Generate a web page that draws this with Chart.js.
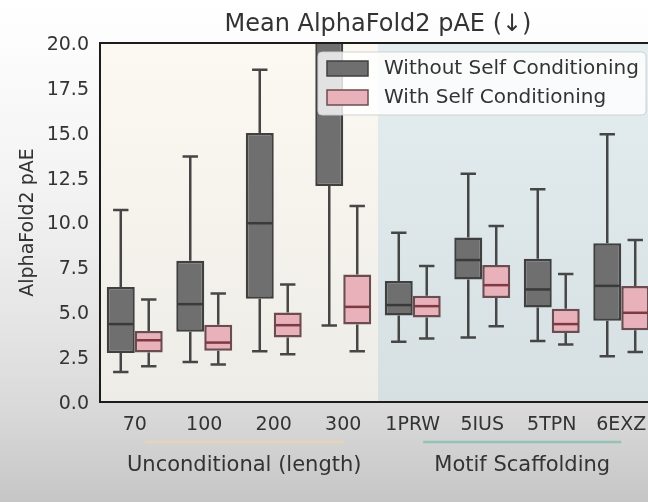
<!DOCTYPE html>
<html>
<head>
<meta charset="utf-8">
<script src="https://cdn.jsdelivr.net/npm/chart.js@4.4.1/dist/chart.umd.min.js"></script>
<style>
  html, body {
    margin: 0; padding: 0; width: 648px; height: 502px; overflow: hidden;
    background: linear-gradient(to bottom, #ffffff 0px, #fbfbfb 60px, #f2f2f2 200px,
                #e4e4e4 330px, #d9d9d9 410px, #c6c6c6 502px);
  }
  canvas { display: block; }
</style>
</head>
<body>
<canvas id="chart" width="664" height="502"></canvas>
<script>
// Categories on the x axis
const categories = ['70', '100', '200', '300', '1PRW', '5IUS', '5TPN', '6EXZ'];

// Category groups shown under the axis
const groupNames = ['Unconditional (length)', 'Motif Scaffolding'];
const groupStart = [0, 4];
const groupEnd = [3, 7];

// Series names
const seriesNames = ['Without Self Conditioning', 'With Self Conditioning'];

// Box statistics: without self conditioning
const withoutMin    = [1.67, 2.23,  2.83,  4.26, 3.35, 3.59, 3.40, 2.55];
const withoutQ1     = [2.73, 3.91,  5.75, 12.04, 4.82, 6.83, 5.27, 4.52];
const withoutMedian = [4.34, 5.45,  9.96, 21.0,  5.40, 7.91, 6.27, 6.47];
const withoutQ3     = [6.40, 7.87, 14.98, 24.0,  6.74, 9.17, 7.98, 8.84];
const withoutMax    = [10.70, 13.67, 18.51, 30.0, 9.43, 12.71, 11.85, 14.92];

// Box statistics: with self conditioning
const withMin    = [1.99, 2.09, 2.66, 2.83, 3.54, 4.22, 3.20, 2.79];
const withQ1     = [2.76, 2.85, 3.59, 4.32, 4.71, 5.80, 3.85, 4.00];
const withMedian = [3.44, 3.31, 4.28, 5.30, 5.34, 6.51, 4.34, 4.97];
const withQ3     = [3.95, 4.30, 4.99, 7.11, 5.92, 7.63, 5.19, 6.46];
const withMax    = [5.71, 6.05, 6.55, 10.92, 7.57, 9.80, 7.13, 9.02];

// Y axis ticks
const yTicks = [0, 2.5, 5, 7.5, 10, 12.5, 15, 17.5, 20];

const FONT = 'DejaVu Sans';
const TEXT = '#333333';

const stats = [
  { min: withoutMin, q1: withoutQ1, med: withoutMedian, q3: withoutQ3, max: withoutMax,
    fill: '#6f6f6f', edge: '#404040', medColor: '#3a3a3a', whisker: '#454545' },
  { min: withMin, q1: withQ1, med: withMedian, q3: withQ3, max: withMax,
    fill: '#e9b2ba', edge: '#6c4c50', medColor: '#7e3a43', whisker: '#474747' }
];

const boxParts = {
  id: 'boxParts',
  beforeDatasetsDraw(chart) {
    const { ctx, chartArea: a, scales: { x } } = chart;
    const split = (x.getPixelForValue(groupEnd[0]) + x.getPixelForValue(groupStart[1])) / 2;
    ctx.save();
    const warm = ctx.createLinearGradient(0, a.top, 0, a.bottom);
    warm.addColorStop(0, '#fcf9f3');
    warm.addColorStop(1, '#eeece6');
    ctx.fillStyle = warm;
    ctx.fillRect(a.left, a.top, split - a.left, a.bottom - a.top);
    const cool = ctx.createLinearGradient(0, a.top, 0, a.bottom);
    cool.addColorStop(0, '#e4eef1');
    cool.addColorStop(1, '#d6dfe2');
    ctx.fillStyle = cool;
    ctx.fillRect(split, a.top, a.right - split, a.bottom - a.top);
    ctx.restore();
  },
  afterDatasetsDraw(chart) {
    const { ctx, chartArea: a, scales: { y } } = chart;
    ctx.save();
    ctx.beginPath();
    ctx.rect(a.left, a.top, a.right - a.left, a.bottom - a.top);
    ctx.clip();
    stats.forEach((s, di) => {
      const meta = chart.getDatasetMeta(di);
      meta.data.forEach((bar, j) => {
        const cx = bar.x, w = bar.width, cap = w * 0.55;
        const yMin = y.getPixelForValue(s.min[j]);
        const yQ1 = y.getPixelForValue(s.q1[j]);
        const yQ3 = y.getPixelForValue(s.q3[j]);
        const yMax = y.getPixelForValue(s.max[j]);
        const yMed = y.getPixelForValue(s.med[j]);
        ctx.strokeStyle = s.whisker;
        ctx.lineWidth = 2.5;
        ctx.lineCap = 'butt';
        ctx.beginPath();
        ctx.moveTo(cx, yQ3); ctx.lineTo(cx, yMax);
        ctx.moveTo(cx, yQ1); ctx.lineTo(cx, yMin);
        ctx.moveTo(cx - cap / 2, yMax); ctx.lineTo(cx + cap / 2, yMax);
        ctx.moveTo(cx - cap / 2, yMin); ctx.lineTo(cx + cap / 2, yMin);
        ctx.stroke();
        ctx.strokeStyle = s.medColor;
        ctx.lineWidth = 2.5;
        ctx.beginPath();
        ctx.moveTo(cx - w / 2 + 1, yMed); ctx.lineTo(cx + w / 2 - 1, yMed);
        ctx.stroke();
      });
    });
    ctx.restore();
  },
  afterDraw(chart) {
    const { ctx, chartArea: a, scales: { x } } = chart;
    ctx.save();

    // axes frame
    ctx.strokeStyle = '#1c1c1c';
    ctx.lineWidth = 2;
    ctx.beginPath();
    ctx.moveTo(a.right + 2, a.top);
    ctx.lineTo(a.left, a.top);
    ctx.lineTo(a.left, a.bottom);
    ctx.lineTo(a.right + 2, a.bottom);
    ctx.stroke();

    // title
    ctx.fillStyle = TEXT;
    ctx.font = `24px "${FONT}"`;
    ctx.textAlign = 'center';
    ctx.textBaseline = 'alphabetic';
    ctx.fillText('Mean AlphaFold2 pAE (\u2193)', (a.left + a.right) / 2, 31);

    // legend
    const lx = 318, ly = 52, lw = 328, lh = 63;
    ctx.fillStyle = 'rgba(255,255,255,0.8)';
    ctx.strokeStyle = 'rgba(205,205,205,0.9)';
    ctx.lineWidth = 1;
    ctx.beginPath();
    ctx.roundRect(lx, ly, lw, lh, 4);
    ctx.fill();
    ctx.stroke();
    const rows = [68.5, 97.5];
    stats.forEach((s, i) => {
      ctx.fillStyle = s.fill;
      ctx.strokeStyle = s.edge;
      ctx.lineWidth = 1.5;
      ctx.fillRect(327, rows[i] - 7.5, 41, 15);
      ctx.strokeRect(327, rows[i] - 7.5, 41, 15);
      ctx.fillStyle = TEXT;
      ctx.font = `20px "${FONT}"`;
      ctx.textAlign = 'left';
      ctx.textBaseline = 'middle';
      ctx.fillText(seriesNames[i], 384, rows[i]);
    });

    // group underlines and labels
    const lineColors = ['#e6d3b8', '#94c2b7'];
    const step = x.getPixelForValue(1) - x.getPixelForValue(0);
    groupNames.forEach((name, i) => {
      const x0 = x.getPixelForValue(groupStart[i]) + step * 0.15;
      const x1 = x.getPixelForValue(groupEnd[i]);
      ctx.strokeStyle = lineColors[i];
      ctx.lineWidth = 2.5;
      ctx.beginPath();
      ctx.moveTo(x0, 442); ctx.lineTo(x1, 442);
      ctx.stroke();
      ctx.fillStyle = TEXT;
      ctx.font = `21px "${FONT}"`;
      ctx.textAlign = 'center';
      ctx.textBaseline = 'alphabetic';
      ctx.fillText(name, (x0 + x1) / 2, 471);
    });
    ctx.restore();
  }
};

new Chart(document.getElementById('chart'), {
  type: 'bar',
  data: {
    labels: categories,
    datasets: stats.map((s, i) => ({
      label: seriesNames[i],
      data: categories.map((_, j) => [s.q1[j], s.q3[j]]),
      backgroundColor: s.fill,
      borderColor: s.edge,
      borderWidth: 2.5,
      borderSkipped: false,
      barPercentage: 1.0,
      categoryPercentage: 0.805
    }))
  },
  options: {
    responsive: false,
    animation: false,
    events: [],
    layout: { padding: { top: 43, right: 8, bottom: 0, left: 0 } },
    plugins: {
      legend: { display: false },
      tooltip: { enabled: false },
      title: { display: false }
    },
    scales: {
      x: {
        type: 'category',
        offset: true,
        grid: { display: false, drawTicks: false },
        border: { display: false },
        ticks: {
          color: TEXT,
          font: { family: FONT, size: 19 },
          padding: 12,
          maxRotation: 0,
          autoSkip: false
        },
        afterFit(scale) { scale.height = 100; }
      },
      y: {
        min: 0,
        max: 20,
        grid: { display: false, drawTicks: false },
        border: { display: false },
        afterBuildTicks(scale) { scale.ticks = yTicks.map(v => ({ value: v })); },
        ticks: {
          color: TEXT,
          font: { family: FONT, size: 19 },
          padding: 11,
          labelOffset: 2,
          callback: v => Number(v).toFixed(1)
        },
        title: {
          display: true,
          text: 'AlphaFold2 pAE',
          color: TEXT,
          font: { family: FONT, size: 19 },
          padding: { top: 17, bottom: 0 }
        },
        afterFit(scale) { scale.width = 100; }
      }
    }
  },
  plugins: [boxParts]
});
</script>
</body>
</html>
